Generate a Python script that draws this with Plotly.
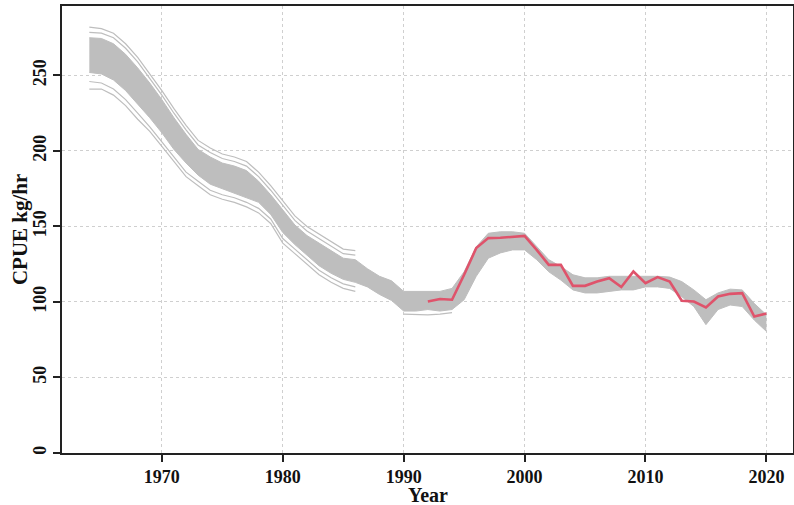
import plotly.graph_objects as go

# Ensemble band (main solid part) 1964-2020
band_years = list(range(1964, 2021))
band_upper = [275, 274.5, 271, 264, 255, 245, 234, 222, 211, 201, 196, 192, 190, 187, 180, 171, 161, 151, 144, 139,
              134, 129, 128, 122, 117, 114, 107, 107, 107, 107, 109, 120, 136.5, 145.5, 146.5, 146.5, 145.5, 136.5, 128, 123.5,
              118, 116, 116, 117, 117, 117, 117, 117, 116.5, 113.5, 108, 101.5, 106, 108.5, 108, 99, 91.5]
band_lower = [252, 251, 247, 240, 231, 222, 212, 201, 192, 184, 178, 175, 172, 169, 166, 158, 146, 138, 131, 124,
              119, 115, 113, 110, 105, 101, 94, 94, 95, 94, 95, 101.5, 117, 129, 132.5, 134.5, 134.5, 128, 120, 114.5,
              108, 106, 106, 107, 108, 108, 110, 110, 109, 103.5, 97, 85, 95, 98, 97, 88, 80.5]

# Separate outer ensemble members visible near the band edges
outer_years = list(range(1964, 1987))
outer_up1 = [278.5, 278, 275, 268, 259, 248, 237, 225, 214, 204, 199, 195, 193, 190, 183, 174, 164, 154, 147, 142, 137, 132, 131]
outer_up2 = [282, 281, 278, 271, 262, 251, 240, 228, 217, 207, 202, 198, 196, 193, 186, 177, 167, 157, 150, 145, 140, 135, 134]
outer_lo1 = [246, 245, 241, 234, 225, 216, 206, 196, 186, 180, 174, 171, 169, 166, 162, 155, 142, 135, 128, 121, 116, 112, 110]
outer_lo2 = [241, 241, 237, 230, 221, 213, 203, 193, 183, 177, 171, 168, 166, 163, 159, 152, 139, 132, 125, 118, 113, 109, 107]
tail_years = [1990, 1991, 1992, 1993, 1994]
tail_lo = [92, 91.5, 91.5, 92, 93]

# Observed CPUE index
obs_years = list(range(1992, 2021))
obs_cpue = [100.3, 102, 101.5, 118, 135.7, 142.3, 142.5, 143, 143.8, 134.5, 124.6, 124.6, 110.7, 110.7, 113.6, 115.8,
            109.9, 120.2, 112.5, 116.5, 113.6, 100.8, 100.3, 96.4, 103.6, 105.4, 105.9, 90.4, 92.4]

x_ticks = [1970, 1980, 1990, 2000, 2010, 2020]
y_ticks = [0, 50, 100, 150, 200, 250]
x_title = "Year"
y_title = "CPUE kg/hr"

GRAY = "#bebebe"
RED = "#df536b"
FONT = "Liberation Serif"

fig = go.Figure()
fig.add_trace(go.Scatter(x=band_years, y=band_lower, mode="lines", line=dict(color=GRAY, width=1),
                         hoverinfo="skip", showlegend=False))
fig.add_trace(go.Scatter(x=band_years, y=band_upper, mode="lines", line=dict(color=GRAY, width=1),
                         fill="tonexty", fillcolor=GRAY, hoverinfo="skip", showlegend=False))
for ys in (outer_up1, outer_up2, outer_lo1, outer_lo2):
    fig.add_trace(go.Scatter(x=outer_years, y=ys, mode="lines", line=dict(color=GRAY, width=1.2),
                             hoverinfo="skip", showlegend=False))
fig.add_trace(go.Scatter(x=tail_years, y=tail_lo, mode="lines", line=dict(color=GRAY, width=1.2),
                         hoverinfo="skip", showlegend=False))
fig.add_trace(go.Scatter(x=obs_years, y=obs_cpue, mode="lines", line=dict(color=RED, width=2.6),
                         showlegend=False))

axis_common = dict(
    showline=True, linecolor="#222222", linewidth=1.5, mirror=True,
    ticks="outside", ticklen=7, tickwidth=1.5, tickcolor="#222222",
    showgrid=True, gridcolor="#cfcfcf", griddash="dot", gridwidth=1,
    zeroline=False, automargin=False,
    tickfont=dict(family=FONT, size=18, color="#111111", weight="bold"),
)

fig.update_layout(
    width=794, height=505,
    margin=dict(l=62, r=1, t=6, b=52),
    plot_bgcolor="white", paper_bgcolor="white",
    xaxis=dict(range=[1961.74, 2022.2], tickvals=x_ticks, **axis_common),
    yaxis=dict(range=[0, 296], tickvals=y_ticks, tickangle=-90, **axis_common),
    annotations=[
        dict(text="<b>" + x_title + "</b>", xref="paper", yref="paper", x=0.5, y=-0.094,
             xanchor="center", yanchor="middle", showarrow=False, borderpad=0,
             font=dict(family=FONT, size=20, color="#111111")),
        dict(text="<b>" + y_title + "</b>", xref="paper", yref="paper", x=-0.058, y=0.5,
             xanchor="center", yanchor="middle", textangle=-90, showarrow=False,
             font=dict(family=FONT, size=21, color="#111111")),
    ],
)

fig.write_html("out.html", config={"displayModeBar": False},
               post_script="document.body.style.margin='0';")
